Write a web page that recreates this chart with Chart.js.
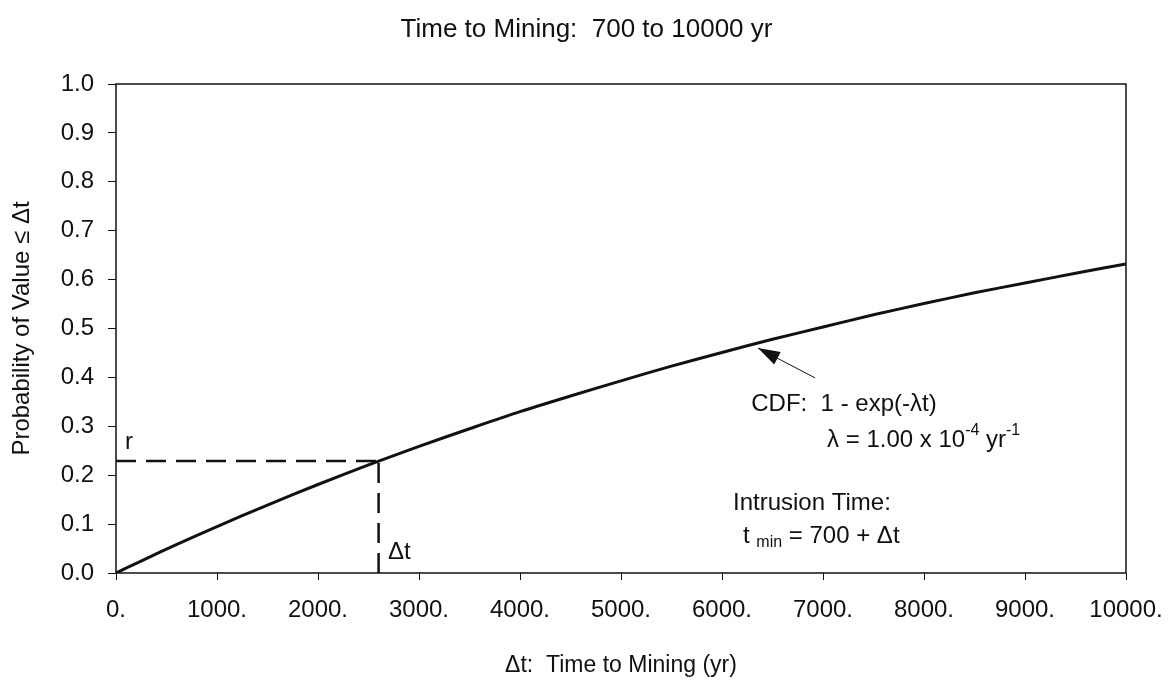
<!DOCTYPE html>
<html>
<head>
<meta charset="utf-8">
<script src="https://cdn.jsdelivr.net/npm/chart.js@4.4.1/dist/chart.umd.min.js"></script>
<style>
  html, body { margin: 0; padding: 0; background: #fff; }
  #wrap { width: 1173px; height: 700px; }
</style>
</head>
<body>
<div id="wrap"><canvas id="cdfChart" width="1173" height="700"></canvas></div>
<script>
// values
const tValues = [0, 500, 1000, 1500, 2000, 2500, 3000, 3500, 4000, 4500, 5000,
                 5500, 6000, 6500, 7000, 7500, 8000, 8500, 9000, 9500, 10000];
const cdfValues = [0, 0.049, 0.095, 0.139, 0.181, 0.221, 0.259, 0.295, 0.330, 0.362, 0.393,
                   0.423, 0.451, 0.478, 0.503, 0.528, 0.551, 0.573, 0.593, 0.613, 0.632];
const sampleDt = 2600;
const sampleR = 0.229;
const chartTitle = 'Time to Mining:  700 to 10000 yr';

const FONT = '"Liberation Sans", Arial, sans-serif';
const INK = '#111';

// title, box, dashed sample lines, arrow and notes
const notesPlugin = {
    id: 'notes',
    afterDatasetsDraw(chart) {
        const { ctx, chartArea: a, scales: { x, y } } = chart;
        ctx.save();

        ctx.fillStyle = INK;
        ctx.font = '26px ' + FONT;
        ctx.textAlign = 'center';
        ctx.textBaseline = 'middle';
        ctx.fillText(chartTitle, chart.width / 2, 30);

        ctx.strokeStyle = INK;
        ctx.lineWidth = 1.5;
        ctx.strokeRect(a.left, a.top, a.right - a.left, a.bottom - a.top);

        // dashed r / dt lines
        ctx.setLineDash([20, 10]);
        ctx.lineWidth = 2.5;
        ctx.beginPath();
        ctx.moveTo(x.getPixelForValue(0), y.getPixelForValue(sampleR));
        ctx.lineTo(x.getPixelForValue(sampleDt), y.getPixelForValue(sampleR));
        ctx.moveTo(x.getPixelForValue(sampleDt), y.getPixelForValue(0));
        ctx.lineTo(x.getPixelForValue(sampleDt), y.getPixelForValue(sampleR));
        ctx.stroke();
        ctx.setLineDash([]);

        // arrow to the curve
        const tx = x.getPixelForValue(6356), ty = y.getPixelForValue(0.46);
        const fx = x.getPixelForValue(6921), fy = y.getPixelForValue(0.399);
        const ang = Math.atan2(ty - fy, tx - fx);
        ctx.lineWidth = 1;
        ctx.beginPath();
        ctx.moveTo(fx, fy);
        ctx.lineTo(tx, ty);
        ctx.stroke();
        ctx.beginPath();
        ctx.moveTo(tx, ty);
        ctx.lineTo(tx - 22 * Math.cos(ang) + 7 * Math.sin(ang), ty - 22 * Math.sin(ang) - 7 * Math.cos(ang));
        ctx.lineTo(tx - 22 * Math.cos(ang) - 7 * Math.sin(ang), ty - 22 * Math.sin(ang) + 7 * Math.cos(ang));
        ctx.closePath();
        ctx.fill();

        // text with optional sub/superscript pieces
        ctx.textAlign = 'left';
        function runs(xv, yv, parts) {
            let px = x.getPixelForValue(xv);
            const py = y.getPixelForValue(yv);
            parts.forEach(p => {
                const small = p.sup || p.sub;
                ctx.font = (small ? 16 : 24) + 'px ' + FONT;
                const dy = p.sup ? -9 : (p.sub ? 6 : 0);
                ctx.fillText(p.t, px, py + dy);
                px += ctx.measureText(p.t).width;
            });
        }
        runs(90, 0.268, [{ t: 'r' }]);
        runs(2693, 0.043, [{ t: '\u0394t' }]);
        runs(6290, 0.344, [{ t: 'CDF:  1 - exp(-\u03bbt)' }]);
        runs(7040, 0.272, [{ t: '\u03bb = 1.00 x 10' }, { t: '-4', sup: true }, { t: ' yr' }, { t: '-1', sup: true }]);
        runs(6109, 0.143, [{ t: 'Intrusion Time:' }]);
        runs(6208, 0.074, [{ t: 't ' }, { t: 'min', sub: true }, { t: ' = 700 + \u0394t' }]);

        ctx.restore();
    }
};

new Chart(document.getElementById('cdfChart'), {
    type: 'line',
    data: {
        datasets: [{
            data: tValues.map((t, i) => ({ x: t, y: cdfValues[i] })),
            borderColor: INK,
            borderWidth: 3,
            pointRadius: 0,
            tension: 0.3,
            fill: false
        }]
    },
    options: {
        responsive: false,
        animation: false,
        layout: { padding: { left: 0, right: 47, top: 84, bottom: 0 } },
        plugins: {
            legend: { display: false },
            tooltip: { enabled: false },
            title: { display: false }
        },
        scales: {
            x: {
                type: 'linear',
                min: 0,
                max: 10000,
                afterFit: s => { s.height = 127; s.paddingLeft = 0; s.paddingRight = 0; },
                border: { display: false },
                grid: { drawOnChartArea: false, drawTicks: true, tickLength: 7, color: INK, lineWidth: 1 },
                ticks: {
                    stepSize: 1000,
                    color: INK,
                    padding: 16,
                    maxRotation: 0,
                    font: { family: FONT, size: 24 },
                    callback: v => v + '.'
                },
                title: {
                    display: true,
                    text: '\u0394t:  Time to Mining (yr)',
                    color: INK,
                    font: { family: FONT, size: 23 },
                    padding: 21
                }
            },
            y: {
                min: 0,
                max: 1,
                afterFit: s => { s.width = 116; s.paddingTop = 0; s.paddingBottom = 0; },
                border: { display: false },
                grid: { drawOnChartArea: false, drawTicks: true, tickLength: 8, color: INK, lineWidth: 1 },
                ticks: {
                    stepSize: 0.1,
                    color: INK,
                    padding: 14,
                    font: { family: FONT, size: 24 },
                    callback: v => v.toFixed(1)
                },
                title: {
                    display: true,
                    text: 'Probability of Value \u2264 \u0394t',
                    color: INK,
                    font: { family: FONT, size: 24 },
                    padding: 8
                }
            }
        }
    },
    plugins: [notesPlugin]
});
</script>
</body>
</html>
